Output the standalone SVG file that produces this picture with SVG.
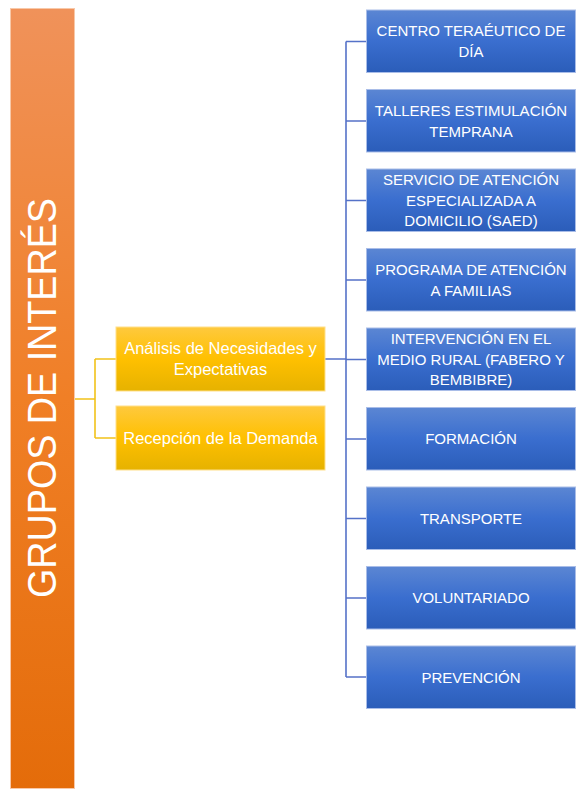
<svg xmlns="http://www.w3.org/2000/svg" width="581" height="789" viewBox="0 0 581 789">
<defs>
<linearGradient id="gOrange" x1="0" y1="0" x2="0" y2="1">
<stop offset="0" stop-color="#f0925a"/>
<stop offset="0.5" stop-color="#f07f26"/>
<stop offset="1" stop-color="#e46c0a"/>
</linearGradient>
<linearGradient id="gYellow" x1="0" y1="0" x2="0" y2="1">
<stop offset="0" stop-color="#fec93e"/>
<stop offset="0.5" stop-color="#ffc000"/>
<stop offset="1" stop-color="#e6b200"/>
</linearGradient>
<linearGradient id="gBlue" x1="0" y1="0" x2="0" y2="1">
<stop offset="0" stop-color="#5b86d3"/>
<stop offset="0.5" stop-color="#3a6ecf"/>
<stop offset="1" stop-color="#2b5db9"/>
</linearGradient>
</defs>
<style>
.orange{fill:url(#gOrange);stroke:#f8c8a8;stroke-width:1}
.yellow{fill:url(#gYellow);stroke:#ffe08a;stroke-width:1}
.blue{fill:url(#gBlue);stroke:#a9bde8;stroke-width:1}
.t{font-family:"Liberation Sans",Arial,sans-serif;fill:#ffffff;text-anchor:middle}
.bt{font-size:15px}
.yt{font-size:16.5px}
.big{font-size:40px}
.cb{fill:none;stroke:#5572c8;stroke-width:1.6}
.cy{fill:none;stroke:#f2c21a;stroke-width:1.6}
</style>
<rect width="581" height="789" fill="#ffffff"/>
<g id="connectors">
<path class="cy" d="M75,399 H95 M95,359 V438 M95,359 H116 M95,438 H116"/>
<path class="cb" d="M325,359 H346 M346,41.5 V677 M346,41.5 H366 M346,121 H366 M346,200.5 H366 M346,280 H366 M346,359.5 H366 M346,439 H366 M346,518.5 H366 M346,598 H366 M346,677 H366"/>
</g>
<g id="grupos">
<rect class="orange" x="10.5" y="8.5" width="64" height="780"/>
<text class="t big" transform="translate(56,398) rotate(-90)" textLength="400" lengthAdjust="spacingAndGlyphs">GRUPOS DE INTERÉS</text>
</g>
<g id="analisis">
<rect class="yellow" x="116" y="327" width="209" height="64"/>
<text class="t yt" x="220.5" y="354">Análisis de Necesidades y</text>
<text class="t yt" x="220.5" y="375">Expectativas</text>
</g>
<g id="recepcion">
<rect class="yellow" x="116" y="406" width="209" height="64"/>
<text class="t yt" x="220.5" y="443.5">Recepción de la Demanda</text>
</g>
<g id="centro">
<rect class="blue" x="366.5" y="10" width="209" height="62.5"/>
<text class="t bt" x="471" y="36">CENTRO TERAÉUTICO DE</text>
<text class="t bt" x="471" y="57">DÍA</text>
</g>
<g id="talleres">
<rect class="blue" x="366.5" y="89.5" width="209" height="62.5"/>
<text class="t bt" x="471" y="115.5">TALLERES ESTIMULACIÓN</text>
<text class="t bt" x="471" y="136.5">TEMPRANA</text>
</g>
<g id="saed">
<rect class="blue" x="366.5" y="169" width="209" height="62.5"/>
<text class="t bt" x="471" y="184.5">SERVICIO DE ATENCIÓN</text>
<text class="t bt" x="471" y="205.5">ESPECIALIZADA A</text>
<text class="t bt" x="471" y="226">DOMICILIO (SAED)</text>
</g>
<g id="familias">
<rect class="blue" x="366.5" y="248.5" width="209" height="62.5"/>
<text class="t bt" x="471" y="274.5">PROGRAMA DE ATENCIÓN</text>
<text class="t bt" x="471" y="295.5">A FAMILIAS</text>
</g>
<g id="rural">
<rect class="blue" x="366.5" y="328" width="209" height="62.5"/>
<text class="t bt" x="471" y="343.5">INTERVENCIÓN EN EL</text>
<text class="t bt" x="471" y="364.5">MEDIO RURAL (FABERO Y</text>
<text class="t bt" x="471" y="385">BEMBIBRE)</text>
</g>
<g id="formacion">
<rect class="blue" x="366.5" y="407.5" width="209" height="62.5"/>
<text class="t bt" x="471" y="444">FORMACIÓN</text>
</g>
<g id="transporte">
<rect class="blue" x="366.5" y="487" width="209" height="62.5"/>
<text class="t bt" x="471" y="523.5">TRANSPORTE</text>
</g>
<g id="voluntariado">
<rect class="blue" x="366.5" y="566.5" width="209" height="62.5"/>
<text class="t bt" x="471" y="603">VOLUNTARIADO</text>
</g>
<g id="prevencion">
<rect class="blue" x="366.5" y="646" width="209" height="62.5"/>
<text class="t bt" x="471" y="682.5">PREVENCIÓN</text>
</g>
</svg>
